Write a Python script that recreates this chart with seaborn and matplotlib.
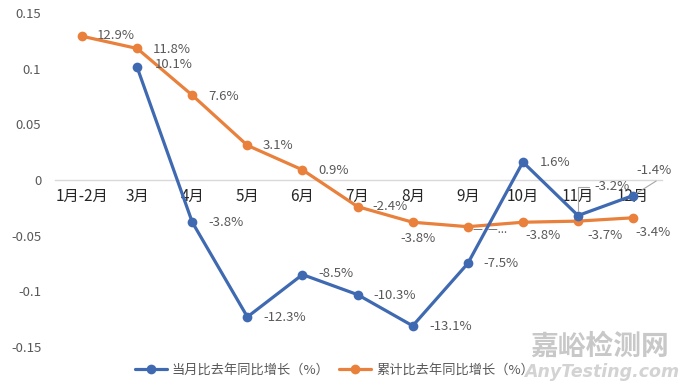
import numpy as np
import pandas as pd
import matplotlib
matplotlib.use("Agg")
import matplotlib.pyplot as plt
import seaborn as sns

categories = ["1月-2月", "3月", "4月", "5月", "6月", "7月", "8月", "9月", "10月", "11月", "12月"]
monthly = [np.nan, 0.101, -0.038, -0.123, -0.085, -0.103, -0.131, -0.075, 0.016, -0.032, -0.014]
cumulative = [0.129, 0.118, 0.076, 0.031, 0.009, -0.024, -0.038, -0.042, -0.038, -0.037, -0.034]
monthly_labels = ["", "10.1%", "-3.8%", "-12.3%", "-8.5%", "-10.3%", "-13.1%", "-7.5%", "1.6%", "-3.2%", "-1.4%"]
cumulative_labels = ["12.9%", "11.8%", "7.6%", "3.1%", "0.9%", "-2.4%", "-3.8%", "—  —...", "-3.8%", "-3.7%", "-3.4%"]
series_names = ["当月比去年同比增长（%）", "累计比去年同比增长（%）"]
yticks = [-0.15, -0.1, -0.05, 0, 0.05, 0.1, 0.15]
ytick_labels = ["-0.15", "-0.1", "-0.05", "0", "0.05", "0.1", "0.15"]

sns.set_theme(style="white")
plt.rcParams["font.family"] = ["Noto Sans CJK SC", "DejaVu Sans"]
plt.rcParams["axes.unicode_minus"] = False

BLUE = "#3F69B1"
ORANGE = "#E9803B"
TXT = "#595959"

x = np.arange(len(categories))
df = pd.DataFrame({
    "x": np.concatenate([x, x]),
    "value": monthly + cumulative,
    "series": [series_names[0]] * len(x) + [series_names[1]] * len(x),
})

fig = plt.figure(figsize=(6.8, 3.89), dpi=100)
ax = fig.add_axes([0.081, 0.108, 0.893, 0.859])

sns.lineplot(data=df, x="x", y="value", hue="series", palette=[BLUE, ORANGE],
             marker="o", markersize=7, markeredgewidth=0, linewidth=2.3,
             ax=ax, legend=True)
ax.lines[0].set_zorder(4)
ax.lines[1].set_zorder(3)

ax.set_xlim(-0.49, 10.53)
ax.set_ylim(-0.15, 0.15)
ax.set_yticks(yticks)
ax.set_yticklabels(ytick_labels, fontsize=9.5, color=TXT)
ax.set_xticks(x)
ax.set_xticklabels(categories, fontsize=9.5, color=TXT)
ax.tick_params(axis="both", length=0)
ax.tick_params(axis="x", pad=6)
ax.tick_params(axis="y", pad=10)
ax.set_xlabel("")
ax.set_ylabel("")
for s in ["top", "right", "left"]:
    ax.spines[s].set_visible(False)
ax.spines["bottom"].set_position(("data", 0))
ax.spines["bottom"].set_color("#D9D9D9")
ax.spines["bottom"].set_linewidth(1.0)
ax.spines["bottom"].set_zorder(1)

# data labels (offsets in pixels)
m_off = [None, (18, 3), (16, 0), (16, -1), (16, 1), (16, -1), (17, -1), (16, 0), (17, 0), (16, 29), (3, 25)]
for i, (v, lab, off) in enumerate(zip(monthly, monthly_labels, m_off)):
    if off is None or np.isnan(v):
        continue
    if i == 9:
        ax.annotate(lab, (i, v), xytext=off, textcoords="offset pixels",
                    ha="left", va="center", fontsize=9.5, color=TXT, zorder=5,
                    arrowprops=dict(arrowstyle="-", color="#A6A6A6", lw=0.8,
                                    connectionstyle="angle,angleA=180,angleB=90,rad=0",
                                    relpos=(0, 0.5), shrinkA=1, shrinkB=3))
    elif i == 10:
        ax.annotate(lab, (i, v), xytext=off, textcoords="offset pixels",
                    ha="left", va="center", fontsize=9.5, color=TXT, zorder=5,
                    arrowprops=dict(arrowstyle="-", color="#A6A6A6", lw=0.8,
                                    relpos=(0.75, 0.0), shrinkA=1, shrinkB=3))
    else:
        ax.annotate(lab, (i, v), xytext=off, textcoords="offset pixels",
                    ha="left", va="center", fontsize=9.5, color=TXT, zorder=5)

c_off = [(15, 1), (16, -1), (16, -1), (15, 0), (16, -1), (15, 0),
         (5, -16), (5, -3), (20, -13), (27, -14), (20, -15)]
c_ha = ["left", "left", "left", "left", "left", "left",
        "center", "left", "center", "center", "center"]
for i, (v, lab, off, ha) in enumerate(zip(cumulative, cumulative_labels, c_off, c_ha)):
    ax.annotate(lab, (i, v), xytext=off, textcoords="offset pixels",
                ha=ha, va="center", fontsize=9.5 if i != 7 else 8, color=TXT, zorder=2)

# watermark text
fig.text(0.882, 0.108, "嘉峪检测网", fontsize=20, color="#C8C8C8", ha="center", va="center",
         fontweight="bold", zorder=0)
fig.text(0.885, 0.044, "AnyTesting.com", fontsize=12.5, color="#D3D3D3", ha="center",
         va="center", style="italic", fontweight="bold", zorder=0,
         family=["DejaVu Sans"])

# legend
handles, labels = ax.get_legend_handles_labels()
leg = ax.legend(handles, labels, loc="lower center", bbox_to_anchor=(0.46, -0.125),
                ncol=2, frameon=False, fontsize=9.5, handlelength=2.4,
                columnspacing=0.7, handletextpad=0.4)
for t in leg.get_texts():
    t.set_color(TXT)

fig.savefig("out.png", dpi=100)
